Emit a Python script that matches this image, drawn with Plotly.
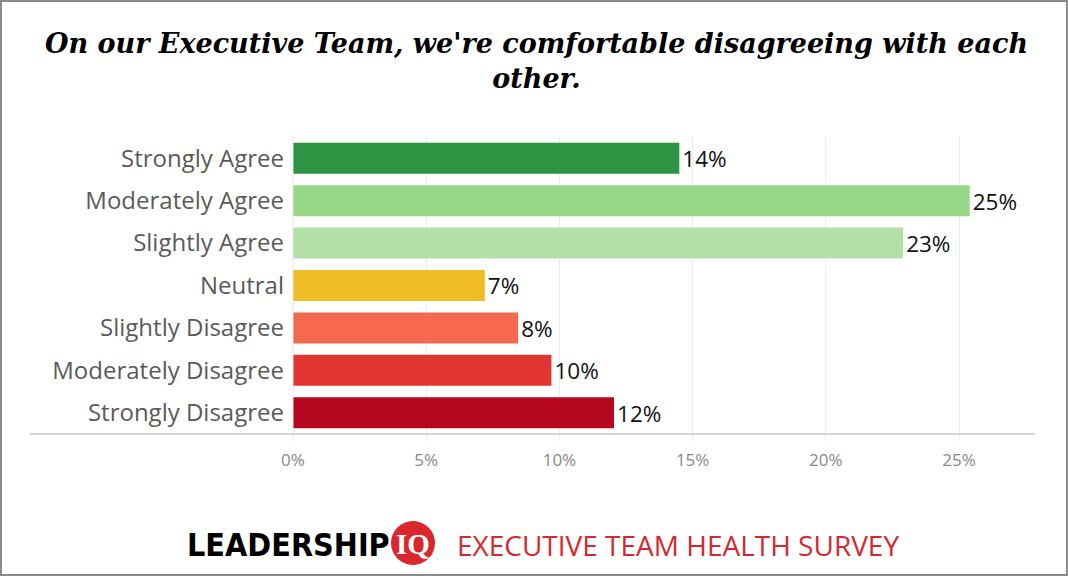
import plotly.graph_objects as go

categories = ["Strongly Agree", "Moderately Agree", "Slightly Agree", "Neutral",
              "Slightly Disagree", "Moderately Disagree", "Strongly Disagree"]
values = [14.5, 25.4, 22.9, 7.2, 8.45, 9.7, 12.05]
labels = ["14%", "25%", "23%", "7%", "8%", "10%", "12%"]
colors = ["#2f9344", "#98d787", "#b3e0a6", "#f1bd26", "#f6694f", "#e13532", "#b5081e"]
tick_vals = [0, 5, 10, 15, 20, 25]
tick_text = ["0%", "5%", "10%", "15%", "20%", "25%"]

title_text = "On our Executive Team, we're comfortable disagreeing with each<br>other."

W, H = 1068, 576
L, R, T, B = 293, 1035, 137, 434

def px_x(p):
    return (p - L) / (R - L)

def px_y(p):
    return (B - p) / (B - T)

fig = go.Figure(go.Bar(
    x=values, y=categories, orientation="h",
    marker=dict(color=colors, line=dict(width=0)),
    text=labels,
    textposition="outside", cliponaxis=False,
    textfont=dict(family="Open Sans", size=24, color="#111"),
    hoverinfo="skip",
))

fig.update_layout(
    width=W, height=H,
    margin=dict(l=L, r=W - R, t=T, b=H - B),
    paper_bgcolor="white", plot_bgcolor="white",
    bargap=0.27, showlegend=False,
    xaxis=dict(range=[0, 27.85], tickvals=tick_vals, ticktext=tick_text,
               showgrid=True, gridcolor="#ececec", gridwidth=1,
               zeroline=False, showline=False,
               ticks="outside", ticklen=6, tickcolor="#ececec",
               ticklabelstandoff=5,
               tickfont=dict(family="Open Sans", size=17, color="#888888")),
    yaxis=dict(autorange="reversed", showgrid=False, zeroline=False,
               ticks="", ticklabelstandoff=8,
               tickfont=dict(family="Open Sans", size=24, color="#5a5a5a")),
    font=dict(family="Open Sans"),
)

# vertical line at 0 (light)
fig.add_shape(type="line", xref="paper", yref="paper", x0=0, x1=0, y0=0, y1=1,
              line=dict(color="#e6e6e6", width=1))
# horizontal axis line
fig.add_shape(type="line", xref="paper", yref="paper", x0=px_x(30), x1=1, y0=0, y1=0,
              line=dict(color="#d4d4d4", width=2))
# frame
fig.add_shape(type="rect", xref="paper", yref="paper",
              xsizemode="pixel", ysizemode="pixel", xanchor=0, yanchor=0,
              x0=1 - L, x1=1067 - L, y0=B - 575, y1=B - 1,
              line=dict(color="#8a8a8a", width=2), fillcolor="rgba(0,0,0,0)")

# title
fig.add_annotation(text="<b><i>" + title_text + "</i></b>", xref="paper", yref="paper",
                   x=px_x(536), y=px_y(61), xanchor="center", yanchor="middle",
                   showarrow=False, align="center",
                   font=dict(family="DejaVu Serif", size=27, color="#000"))

# footer logo
fig.add_annotation(text="<b>LEADERSHIP</b>", xref="paper", yref="paper",
                   x=px_x(185), y=px_y(545), xanchor="left", yanchor="middle",
                   showarrow=False,
                   font=dict(family="DejaVu Sans Condensed", size=32, color="#000"))
fig.add_shape(type="circle", xref="paper", yref="paper",
              xsizemode="pixel", ysizemode="pixel",
              xanchor=px_x(413), yanchor=px_y(543),
              x0=-22, x1=22, y0=-22, y1=22,
              fillcolor="#d9272e", line=dict(width=0))
fig.add_annotation(text="<b>IQ</b>", xref="paper", yref="paper",
                   x=px_x(413), y=px_y(544), xanchor="center", yanchor="middle",
                   showarrow=False,
                   font=dict(family="Liberation Serif", size=29, color="white"))
fig.add_annotation(text="EXECUTIVE TEAM HEALTH SURVEY", xref="paper", yref="paper",
                   x=px_x(455), y=px_y(545), xanchor="left", yanchor="middle",
                   showarrow=False,
                   font=dict(family="Open Sans", size=28, color="#d42a2f"))

fig.write_html("out.html",
               config={"displayModeBar": False},
               post_script="document.body.style.margin='0px';document.body.style.overflow='hidden';")
